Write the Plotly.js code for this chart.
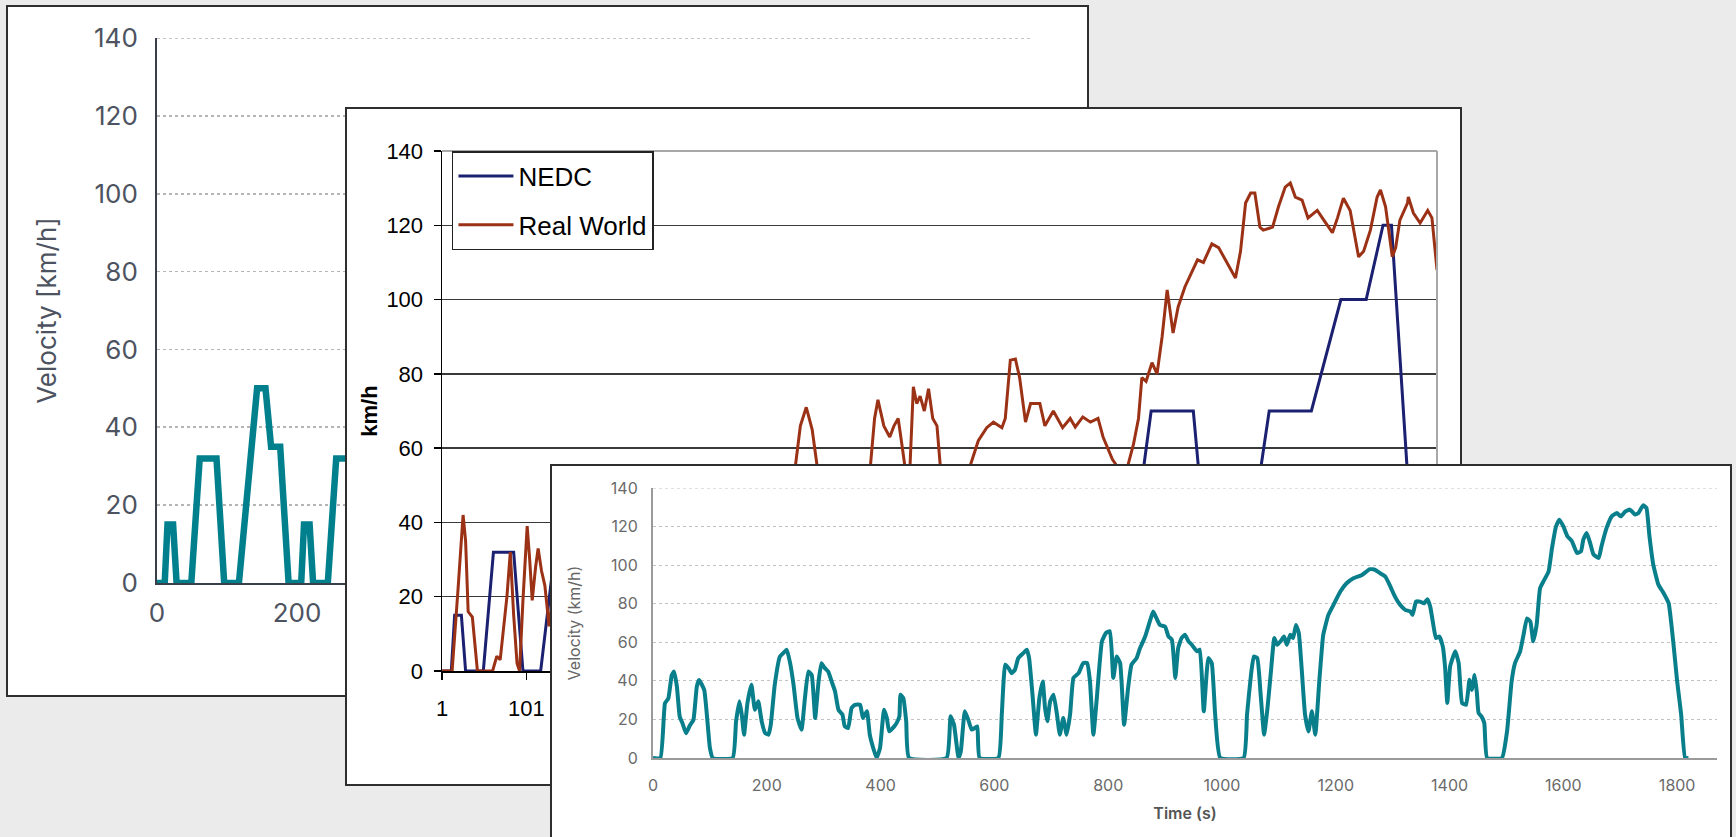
<!DOCTYPE html>
<html>
<head>
<meta charset="utf-8">
<script src="https://cdn.plot.ly/plotly-3.0.1.min.js"></script>
<style>
  html, body { margin:0; padding:0; }
  body { width:1736px; height:837px; overflow:hidden; background:#ebebeb; position:relative; }
  .panel { position:absolute; border:2px solid #2e2e2e; background:#fff; }
</style>
</head>
<body>
<div class="panel" style="left:6px;top:5px;width:1079px;height:688px;"><div id="p1"></div></div>
<div class="panel" style="left:345px;top:107px;width:1113px;height:675px;"><div id="p2"></div></div>
<div class="panel" style="left:550px;top:464px;width:1178px;height:420px;"><div id="p3"></div></div>
<script>
// ---------- DATA ----------
// NEDC speed profile breakpoints (time s, speed km/h)
const nedcTime = [0,11,15,23,28,49,61,85,96,117,143,155,163,176,188,
  206,210,218,223,244,256,280,291,312,338,350,358,371,383,
  401,405,413,418,439,451,475,486,507,533,545,553,566,578,
  596,600,608,613,634,646,670,681,702,728,740,748,761,773,
  800,841,891,899,968,981,1031,1066,1096,1116,1126,1160,1180];
const nedcSpeed = [0,0,15,15,0,0,32,32,0,0,50,50,35,35,0,
  0,15,15,0,0,32,32,0,0,50,50,35,35,0,
  0,15,15,0,0,32,32,0,0,50,50,35,35,0,
  0,15,15,0,0,32,32,0,0,50,50,35,35,0,
  0,70,70,50,50,70,70,100,100,120,120,0,0];

// Real-world trip (sample index, speed km/h)
const realIdx = [1,13,20,26,29,32,37,43,61,66,70,73,78,82,86,90,93,97,102,105,108,112,115,119,123,128,135,142,150,158,175,185,195,205,215,225,235,250,262,275,288,302,318,332,352,368,382,396,408,414,420,426,433,440,446,455,466,476,490,500,509,514,518,525,532,537,542,547,550,553,556,560,564,568,573,578,583,588,592,600,610,618,627,637,647,655,665,669,675,681,686,693,699,710,716,726,737,746,752,761,770,779,785,796,802,806,810,814,821,827,831,836,843,849,855,861,868,874,882,891,897,904,914,922,930,942,948,954,960,965,971,975,986,993,1001,1007,1013,1021,1028,1039,1048,1057,1063,1070,1078,1088,1094,1102,1110,1114,1120,1128,1132,1137,1146,1147,1153,1161,1170,1175,1181];
const realSpeed = [0,0,22,42,35,16,14.5,0,0,4,3,10,20,32,15,2,0,19,39,30,19,28,33,27,23,12,25,30,12,0,0,22,36,28,44,22,0,0,20,38,33,47,30,0,0,24,36,20,38,50,55,66,71,65,55,38,18,0,0,30,55,68,73,66,63,66,68,60,55,50,55,76.5,72,74,70,76,68,66,55,42,46,38,55,62,65.5,67,65.5,68,83.7,84,79,67,72,72,66,70,65.5,68,65.7,68.4,67,68,63,57,55,48,50,55,61,68,79,78,83,80,90,102.6,91,98,103.4,108,110.7,110,115,114,110.7,105.8,113,126,128.7,128.7,119.5,118.7,119.5,125,130.3,131.4,127.6,126.8,122,124,121,118,122,127.3,124,111.5,113,118.7,127.6,129.5,125,111.5,114,121.4,126,127.6,123.3,120.6,124,122,108];

// WLTC-type cycle (time s, speed km/h)
const wltcTime = [0,13,21,27,33,37,42,47,52,58,65,71,77,81,90,100,105,140,146,152,156,160,166,173,179,185,191,197,203,207,214,223,229,235,241,247,254,261,267,273,279,285,291,296,302,308,314,320,326,333,337,343,349,355,364,369,376,381,387,393,399,406,411,415,424,428,433,435,440,445,450,516,523,529,537,541,548,554,560,566,570,574,607,613,619,625,630,636,642,651,657,661,667,673,679,685,689,693,698,704,710,715,721,727,733,739,748,756,763,768,774,780,789,796,803,809,815,821,828,835,841,850,856,865,874,879,885,891,900,906,912,918,923,929,935,941,947,956,961,968,976,982,988,997,1038,1044,1051,1056,1062,1068,1074,1080,1086,1092,1097,1103,1109,1114,1120,1125,1130,1135,1140,1146,1152,1158,1164,1171,1178,1187,1196,1208,1219,1231,1246,1260,1269,1278,1287,1296,1304,1313,1322,1331,1335,1341,1348,1355,1361,1366,1371,1376,1382,1388,1392,1396,1401,1410,1416,1422,1429,1435,1439,1444,1448,1451,1456,1461,1466,1492,1501,1509,1515,1524,1530,1536,1542,1547,1553,1559,1565,1574,1580,1587,1593,1600,1607,1615,1624,1631,1635,1641,1647,1653,1662,1667,1676,1685,1694,1701,1709,1717,1726,1732,1740,1746,1751,1758,1767,1776,1785,1793,1800,1807,1814,1820];
const wltcSpeed = [0,0,28.4,30.9,43,44.8,37,21.4,17.9,12.8,17,19.7,37,40.4,35.3,5.2,0,0,19,29.4,22.5,12.1,28.5,38,25,29.4,19,13,12.1,17.3,38,52.6,54.4,56.2,49.2,38,20.7,14.7,31,44.8,43,20.7,39.7,49.2,46.6,44.8,39.7,34.5,25,22.5,16.4,15.6,25.9,27.6,27.6,20.7,24.2,12.1,5.2,0,5.2,25,20.7,13.8,16.4,18.1,21.6,32.8,31,19,0,0,21.6,17.3,0,3.5,24.2,19.9,14.7,15.6,16.4,0,0,22.5,48.4,46.6,44,45.7,51.8,54.4,56.2,51.8,32.8,12.1,31,39.7,25.9,19,29.4,32.8,22.5,12.1,20.7,12.1,22.5,41.5,44,49.2,49.2,39.7,12.1,31,60.5,64.8,65.7,41.5,52.6,49.2,17.3,36.3,48.4,51.8,57,63,71.6,75.9,72.4,69,68.1,63,61.3,41.5,57,62.2,63.9,60.5,58.7,55.3,56.2,24.2,51.8,49.2,22.5,0,0,22.5,43.2,52.6,51.8,32.8,12.1,25.9,44.8,62.2,58.7,60.5,63,58.7,63.9,62.2,69,64.8,46.6,22.5,13.8,24.2,12.1,39.7,63.9,74.2,79.4,86.3,90.6,93.2,94.9,97.9,97.6,95.8,94.1,88.9,83.7,79.4,76.8,76,74.2,81.1,81.1,80.2,82.3,78.5,69.8,62.2,63,57.9,47.5,28.5,47.5,55.3,49.2,28.5,27.6,40.6,35.3,43,33.7,23.3,21.6,18.1,0,0,13.8,39.7,49.2,55.3,63.9,72.4,70.7,60.5,69,88,91.6,96.7,108.8,120,123.6,120.1,115,112.4,106.3,107.2,113.2,116.7,111.5,105.5,103.7,109.8,119.3,125.3,127,125.3,127.9,128.8,126.2,127,131,129.6,115.8,100.3,89.9,85.6,80.3,60.5,39.7,22.5,0,0];

// Tick labels (only the ones not covered by the panel in front)
const velTicks = [0,20,40,60,80,100,120,140];
const p1XTicks = [0,200];
const p2XTicks = [1,101];
const p2XText = ['1','101'];
const p3XTicks = [0,200,400,600,800,1000,1200,1400,1600,1800];

const cfg = {staticPlot:true, displayModeBar:false};

// ---------- PANEL 1 (back) ----------
Plotly.newPlot('p1', [{
  x: nedcTime, y: nedcSpeed, type:'scatter', mode:'lines',
  line:{color:'#00808d', width:6.5}
}], {
  width:1079, height:688, margin:{l:149, r:55, t:31, b:112},
  paper_bgcolor:'#fff', plot_bgcolor:'#fff', showlegend:false,
  font:{family:'Inter, sans-serif', color:'#4d5360'},
  xaxis:{range:[0,1250], tickvals:p1XTicks, showgrid:false, zeroline:false,
    showline:true, linecolor:'#39404c', linewidth:2, ticks:'',
    tickfont:{size:26, color:'#4d5360'}, ticklabelstandoff:6},
  yaxis:{range:[0,140], tickvals:velTicks, showgrid:true, gridcolor:'#b5b5b5',
    griddash:'dot', gridwidth:1.6, zeroline:false, showline:true,
    linecolor:'#39404c', linewidth:2, ticks:'', tickfont:{size:26, color:'#4d5360'},
    ticklabelstandoff:12,
    title:{text:'Velocity [km/h]', font:{size:26, color:'#4d5360'}, standoff:30}},
  shapes:[{type:'line', xref:'paper', yref:'y', x0:0, x1:1, y0:140, y1:140,
    line:{color:'#b5b5b5', width:1.6, dash:'dot'}, layer:'below'}]
}, cfg);

// ---------- PANEL 2 (middle) ----------
Plotly.newPlot('p2', [
  {x: nedcTime.map(t => t + 1), y: nedcSpeed, type:'scatter', mode:'lines', name:'NEDC',
   legendgroup:'a', line:{color:'#1b2070', width:3}},
  {x: realIdx, y: realSpeed, type:'scatter', mode:'lines', name:'Real World',
   legendgroup:'b', line:{color:'#9b3115', width:3}}
], {
  width:1113, height:675, margin:{l:95, r:23, t:42, b:113},
  paper_bgcolor:'#fff', plot_bgcolor:'#fff', showlegend:true,
  font:{family:'Liberation Sans, Arial, sans-serif', color:'#000'},
  xaxis:{range:[1,1181], tickvals:p2XTicks, ticktext:p2XText, showgrid:false, zeroline:false,
    showline:true, linecolor:'#000', linewidth:1.5, ticks:'outside', ticklen:7,
    tickwidth:1.3, tickcolor:'#000', tickfont:{size:22}, ticklabelstandoff:10},
  yaxis:{range:[0,140], tickvals:velTicks, showgrid:true, gridcolor:'#3a3a3a', gridwidth:1.3,
    zeroline:false, showline:true, linecolor:'#000', linewidth:1.5, ticks:'outside',
    ticklen:7, tickwidth:1.3, tickcolor:'#000', tickfont:{size:22}, ticklabelstandoff:6,
    title:{text:'<b>km/h</b>', font:{size:22}, standoff:2}},
  shapes:[
    {type:'line', xref:'paper', yref:'paper', x0:0, x1:1, y0:1, y1:1, line:{color:'#a8a8a8', width:2}},
    {type:'line', xref:'paper', yref:'paper', x0:1, x1:1, y0:0, y1:1, line:{color:'#a8a8a8', width:2}}
  ],
  legend:{x:0.01, y:1, xanchor:'left', yanchor:'top', bgcolor:'#fff', bordercolor:'#222',
    borderwidth:1.5, font:{size:26, color:'#000'}, traceorder:'grouped', tracegroupgap:12,
    itemwidth:55, entrywidth:212, entrywidthmode:'pixels'}
}, cfg);

// ---------- PANEL 3 (front) ----------
Plotly.newPlot('p3', [{
  x: wltcTime, y: wltcSpeed, type:'scatter', mode:'lines',
  line:{color:'#0a7f8c', width:4, shape:'spline', smoothing:0.4}
}], {
  width:1178, height:420, margin:{l:101, r:13, t:22, b:128},
  paper_bgcolor:'#fff', plot_bgcolor:'#fff', showlegend:false,
  font:{family:'Inter, sans-serif', color:'#6a6a6a'},
  xaxis:{range:[0,1870], tickvals:p3XTicks, showgrid:false, zeroline:false,
    showline:true, linecolor:'#9a9a9a', linewidth:2, ticks:'',
    tickfont:{size:16, color:'#6a6a6a'}, ticklabelstandoff:12,
    title:{text:'Time (s)', font:{size:16, color:'#555', weight:600}, standoff:14}},
  yaxis:{range:[0,140], tickvals:velTicks, showgrid:true, gridcolor:'#c2c2c2', griddash:'dot',
    gridwidth:1.2, zeroline:false, showline:true, linecolor:'#9a9a9a', linewidth:2, ticks:'',
    tickfont:{size:16, color:'#6a6a6a'}, ticklabelstandoff:10,
    title:{text:'Velocity (km/h)', font:{size:16, color:'#666'}, standoff:26}},
  shapes:[{type:'line', xref:'paper', yref:'y', x0:0, x1:1, y0:140, y1:140,
    line:{color:'#c2c2c2', width:1.2, dash:'dot'}, layer:'below'}]
}, cfg);
</script>
</body>
</html>
